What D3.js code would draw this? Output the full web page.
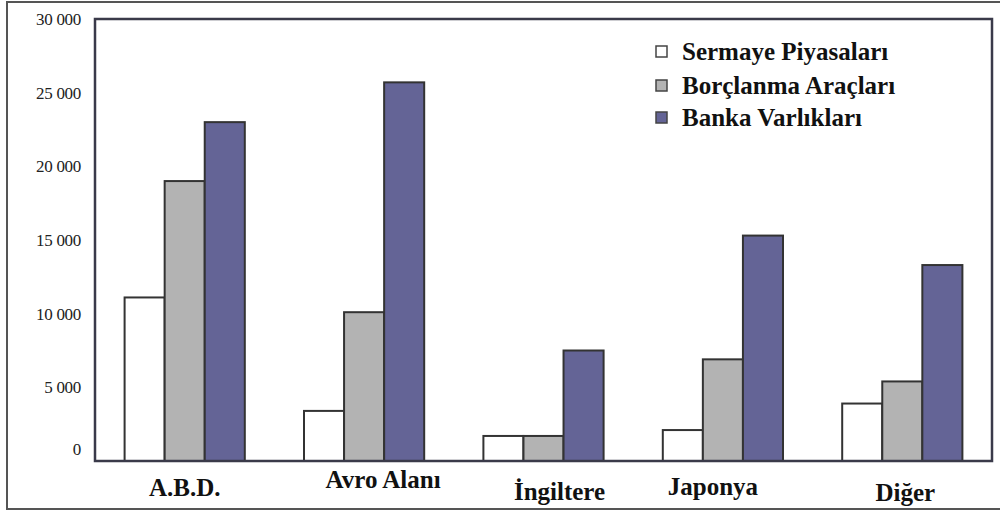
<!DOCTYPE html>
<html><head><meta charset="utf-8">
<script src="https://cdn.jsdelivr.net/npm/d3@7"></script>
<style>html,body{margin:0;padding:0;background:#fff;}svg{display:block;}</style>
</head><body>
<svg id="c" width="1000" height="512"></svg>
<script>
const categories = ["A.B.D.", "Avro Alanı", "İngiltere", "Japonya", "Diğer"];
const seriesNames = ["Sermaye Piyasaları", "Borçlanma Araçları", "Banka Varlıkları"];
const sermaye = [11100, 3400, 1700, 2100, 3900];
const borclanma = [19000, 10100, 1700, 6900, 5400];
const banka = [23000, 25700, 7500, 15300, 13300];
const yTicks = [0, 5000, 10000, 15000, 20000, 25000, 30000];
const tickLabels = ["0", "5 000", "10 000", "15 000", "20 000", "25 000", "30 000"];

const FONT = '"Liberation Serif", monospace';
const colors = ["#ffffff", "#b3b3b3", "#646496"];
const svg = d3.select("#c");
const L = 95, R = 992, T = 19, B = 461;

svg.append("rect").attr("x", 7).attr("y", 2).attr("width", 1000).attr("height", 507)
  .attr("fill", "none").attr("stroke", "#555").attr("stroke-width", 2);

const x0 = d3.scaleBand().domain(categories).range([L, R]).paddingInner(0.33).paddingOuter(0.165);
const x1 = d3.scaleBand().domain(seriesNames).range([0, x0.bandwidth()]);
const y = d3.scaleLinear().domain([0, 30000]).range([B, T]);

const series = [sermaye, borclanma, banka];
const data = [];
categories.forEach((c, i) => series.forEach((s, j) => data.push({c, k: seriesNames[j], v: s[i], j})));

svg.append("g").selectAll("rect").data(data).join("rect")
  .attr("x", d => x0(d.c) + x1(d.k))
  .attr("y", d => y(d.v))
  .attr("width", x1.bandwidth())
  .attr("height", d => y(0) - y(d.v))
  .attr("fill", d => colors[d.j])
  .attr("stroke", "#333").attr("stroke-width", 2);

// plot frame
svg.append("rect").attr("x", L).attr("y", T).attr("width", R - L).attr("height", B - T)
  .attr("fill", "none").attr("stroke", "#3a3a4a").attr("stroke-width", 2.5);

// y axis labels
const yAxis = d3.axisLeft(y).tickValues(yTicks).tickSize(0).tickPadding(0)
  .tickFormat((d, i) => tickLabels[i]);
const ga = svg.append("g").attr("transform", `translate(81,0)`).call(yAxis);
ga.select(".domain").remove();
ga.selectAll("text")
  .style("font-family", FONT).style("font-size", "17px")
  .attr("fill", "#222").attr("letter-spacing", -0.3)
  .attr("dy", (d) => d === 0 ? "-0.4em" : "0.32em");

// category labels
const labelShift = [[0, 0], [19, -8], [16, 4], [-10, -1], [3, 5]];
svg.append("g").selectAll("text").data(categories).join("text")
  .attr("x", (d, i) => x0(d) + x0.bandwidth() / 2 + labelShift[i][0])
  .attr("y", (d, i) => 496 + labelShift[i][1])
  .attr("text-anchor", "middle")
  .style("font-family", FONT).style("font-weight", "bold").style("font-size", "25px")
  .attr("fill", "#111")
  .text(d => d);

// legend
const lg = svg.append("g").attr("transform", "translate(656,0)");
const ly = [52, 86, 118];
seriesNames.forEach((n, i) => {
  lg.append("rect").attr("x", 0).attr("y", ly[i] - 6).attr("width", 11).attr("height", 11)
    .attr("fill", colors[i]).attr("stroke", "#444").attr("stroke-width", 1.5);
  lg.append("text").attr("x", 26).attr("y", ly[i] + 8)
    .style("font-family", FONT).style("font-weight", "bold").style("font-size", "25px")
    .attr("fill", "#111")
    .text(n);
});
</script>
</body></html>
